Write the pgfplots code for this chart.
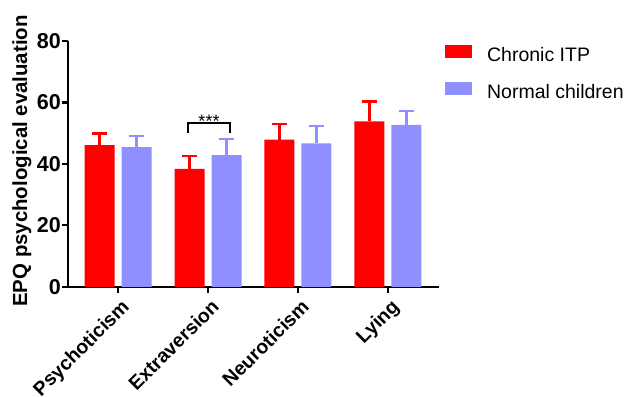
\documentclass[border=0pt]{standalone}
\usepackage{fontspec}
\setmainfont{Liberation Sans}
\usepackage{pgfplots}
\pgfplotsset{compat=1.18}
\definecolor{itp}{RGB}{255,0,0}
\definecolor{nrm}{RGB}{143,143,255}
\begin{document}
\begin{tikzpicture}
\useasboundingbox (0,0) rectangle (634pt,396pt);
\begin{axis}[
  at={(68pt,109pt)}, anchor=south west,
  scale only axis, width=371pt, height=246pt,
  xmin=-0.556, xmax=3.567, ymin=0, ymax=80,
  axis x line=bottom, axis y line=left,
  axis line style={-, line width=2.4pt, black},
  ytick={0,20,40,60,80},
  xtick={0,1,2,3},
  xticklabels={Psychoticism,Extraversion,Neuroticism,Lying},
  tick style={black, line width=2pt},
  major tick length=6pt, tick align=outside,
  ybar=7pt, bar width=30pt,
  clip=false,
  /pgf/number format/assume math mode=true,
  yticklabel style={inner sep=1pt, font=\fontsize{21.5}{24}\selectfont\bfseries},
  xticklabel style={rotate=45, anchor=north east, inner sep=1pt, yshift=-4pt, xshift=-1pt, font=\fontsize{19.5}{22}\selectfont\bfseries},
  ylabel={EPQ psychological evaluation},
  ylabel style={font=\fontsize{20.4}{22}\selectfont\bfseries, at={(axis description cs:-0.1105,0.512)}, anchor=base},
  legend style={draw=none, fill=none, at={(rel axis cs:1.016,0.985)}, anchor=north west,
    font=\fontsize{19.5}{22}\selectfont, row sep=17pt, inner sep=0pt,
    /tikz/every odd column/.append style={column sep=13pt}},
  legend cell align=left,
  legend image code/.code={\fill[#1] (0pt,-3pt) rectangle (27pt,10pt);},
]
\addplot+[fill=itp, draw=none,
  error bars/.cd, y dir=plus, y explicit,
  error bar style={line width=2.2pt, color=itp},
  error mark options={rotate=90, line width=2.2pt, mark size=7.5pt, color=itp}]
  coordinates {(0,46.1) +- (0,3.8) (1,38.4) +- (0,4.1) (2,47.9) +- (0,5.2) (3,53.9) +- (0,6.4)};
\addplot+[fill=nrm, draw=none,
  error bars/.cd, y dir=plus, y explicit,
  error bar style={line width=2.2pt, color=nrm},
  error mark options={rotate=90, line width=2.2pt, mark size=7.5pt, color=nrm}]
  coordinates {(0,45.5) +- (0,3.5) (1,42.9) +- (0,5.3) (2,46.7) +- (0,5.7) (3,52.7) +- (0,4.5)};
\legend{Chronic ITP, Normal children}
\draw[line width=2pt] (axis cs:0.778,50) -- (axis cs:0.778,53.2) -- (axis cs:1.244,53.2) -- (axis cs:1.244,50);
\node[anchor=base, inner sep=0pt, font=\fontsize{18}{20}\selectfont] at (axis cs:1.011,51.9) {***};
\end{axis}
\end{tikzpicture}
\end{document}
